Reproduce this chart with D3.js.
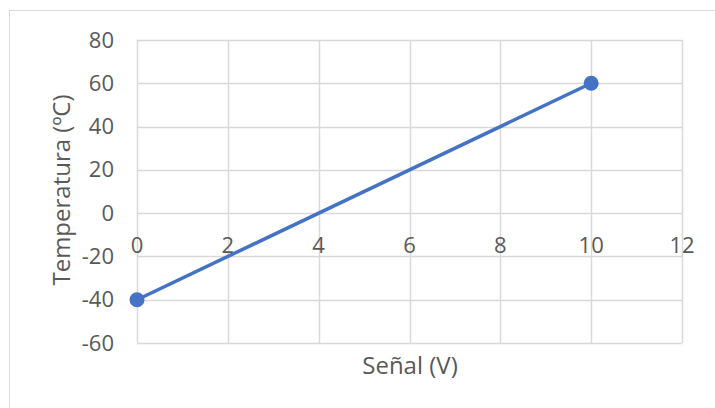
<!DOCTYPE html>
<html><head><meta charset="utf-8">
<script src="https://cdn.jsdelivr.net/npm/d3@7"></script>
<style>body{margin:0;background:#fff}svg{display:block}text{font-family:"Open Sans",sans-serif;fill:#595959}</style>
</head><body><svg id="c" width="715" height="408"></svg>
<script>
const xValues = [0, 10];
const yValues = [-40, 60];
const xTicks = [0, 2, 4, 6, 8, 10, 12];
const yTicks = [-60, -40, -20, 0, 20, 40, 60, 80];
const xTitle = "Señal (V)";
const yTitle = "Temperatura (ºC)";

const svg = d3.select("#c");
svg.append("rect").attr("x", 9.5).attr("y", 10.5).attr("width", 720).attr("height", 420)
  .attr("fill", "#fff").attr("stroke", "#d9d9d9").attr("stroke-width", 1);

const x = d3.scaleLinear().domain([0, 12]).range([137, 682]);
const y = d3.scaleLinear().domain([-60, 80]).range([343, 40]);
const fs = 22;
const tfs = 24;

const g = svg.append("g");
g.selectAll(".vg").data(xTicks).join("line")
  .attr("x1", d => Math.round(x(d)) + 0.5).attr("x2", d => Math.round(x(d)) + 0.5)
  .attr("y1", y(80)).attr("y2", y(-60)).attr("stroke", "#d9d9d9").attr("stroke-width", 1.5);
g.selectAll(".hg").data(yTicks).join("line")
  .attr("y1", d => Math.round(y(d)) + 0.5).attr("y2", d => Math.round(y(d)) + 0.5)
  .attr("x1", x(0)).attr("x2", x(12)).attr("stroke", "#d9d9d9").attr("stroke-width", 1.5);

g.selectAll(".yl").data(yTicks).join("text")
  .attr("x", 114).attr("y", d => y(d) + 7.5).attr("text-anchor", "end")
  .attr("font-size", fs).text(d => d);
g.selectAll(".xl").data(xTicks).join("text")
  .attr("x", d => x(d)).attr("y", y(0) + 40).attr("text-anchor", "middle")
  .attr("font-size", fs).text(d => d);

const pts = xValues.map((v, i) => [v, yValues[i]]);
g.append("path").datum(pts)
  .attr("d", d3.line().x(d => x(d[0])).y(d => y(d[1])))
  .attr("fill", "none").attr("stroke", "#4472c4").attr("stroke-width", 3.5);
g.selectAll(".pt").data(pts).join("circle")
  .attr("cx", d => x(d[0])).attr("cy", d => y(d[1])).attr("r", 7.5)
  .attr("fill", "#4472c4");

svg.append("text").attr("x", 410).attr("y", 374).attr("text-anchor", "middle")
  .attr("font-size", tfs).text(xTitle);
svg.append("text").attr("transform", "translate(70,190) rotate(-90)").attr("text-anchor", "middle")
  .attr("font-size", tfs).text(yTitle);
</script></body></html>
